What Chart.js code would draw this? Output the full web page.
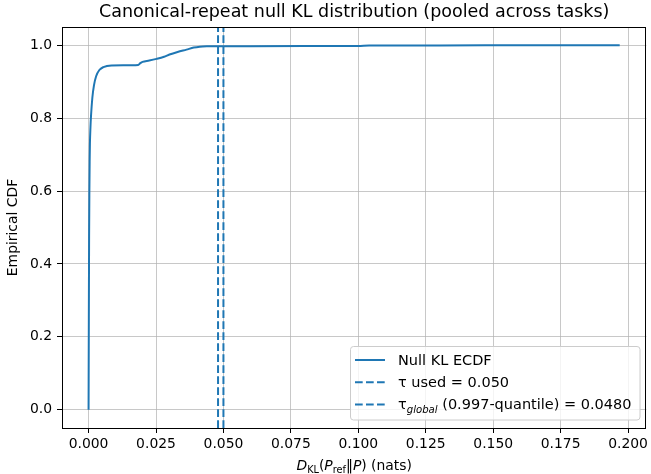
<!DOCTYPE html>
<html>
<head>
<meta charset="utf-8">
<script src="https://cdn.jsdelivr.net/npm/chart.js@4/dist/chart.umd.min.js"></script>
<style>
  html, body { margin: 0; padding: 0; background: #fff; }
  #wrap { width: 651px; height: 474px; }
</style>
</head>
<body>
<div id="wrap"><canvas id="ecdfChart" width="651" height="474"></canvas></div>
<script>
// pooled null KL values (nats) and their empirical CDF
const klValues = [0.0000, 0.0001, 0.0002, 0.0003, 0.0004, 0.0005, 0.0007, 0.0009, 0.0014, 0.0020,
  0.0028, 0.0040, 0.0055, 0.0085, 0.0130, 0.0184, 0.0192, 0.0200, 0.0225, 0.0252,
  0.0280, 0.0300, 0.0330, 0.0363, 0.0390, 0.0412, 0.0440, 0.0473, 0.0600, 0.0800,
  0.1000, 0.1040, 0.1300, 0.1600, 0.1969];
const cdfValues = [0.000, 0.250, 0.480, 0.600, 0.680, 0.730, 0.775, 0.805, 0.856, 0.890,
  0.915, 0.932, 0.940, 0.9445, 0.9450, 0.9460, 0.9510, 0.9545, 0.9580, 0.9626,
  0.9685, 0.9745, 0.9815, 0.9880, 0.9935, 0.9960, 0.9970, 0.9972, 0.9974, 0.9976,
  0.9980, 0.9992, 0.9995, 0.9998, 1.0000];

const tauUsed = 0.050;
const tauGlobal = 0.0480;

const xTicks = [0, 0.025, 0.05, 0.075, 0.1, 0.125, 0.15, 0.175, 0.2];
const yTicks = [0, 0.2, 0.4, 0.6, 0.8, 1.0];

const BLUE = '#1f77b4';
const FONT = '"DejaVu Sans", sans-serif';
const DASH = [7.7, 3.3];

// text runs: { t, it (italic), sub (subscript) }
const titleText = 'Canonical-repeat null KL distribution (pooled across tasks)';
const xTitleRuns = [
  { t: 'D', it: true }, { t: 'KL', sub: true }, { t: '(' }, { t: 'P', it: true },
  { t: 'ref', sub: true }, { t: '\u2016' }, { t: 'P', it: true }, { t: ') (nats)' }
];
const yTitle = 'Empirical CDF';
const legendRows = [
  { dash: false, runs: [{ t: 'Null KL ECDF' }] },
  { dash: true, runs: [{ t: '\u03c4 used = ' + tauUsed.toFixed(3) }] },
  { dash: true, runs: [{ t: '\u03c4' }, { t: 'global', it: true, sub: true }, { t: ' (0.997-quantile) = ' + tauGlobal.toFixed(4) }] }
];

function runFont(r, size) {
  const s = r.sub ? size * 0.7 : size;
  return (r.it ? 'italic ' : '') + s + 'px ' + FONT;
}

function drawRuns(ctx, runs, x, y, size, align) {
  let total = 0;
  runs.forEach(r => { ctx.font = runFont(r, size); total += ctx.measureText(r.t).width; });
  let cx = align === 'center' ? x - total / 2 : x;
  ctx.textAlign = 'left';
  ctx.textBaseline = 'alphabetic';
  runs.forEach(r => {
    ctx.font = runFont(r, size);
    ctx.fillText(r.t, cx, r.sub ? y + size * 0.25 : y);
    cx += ctx.measureText(r.t).width;
  });
}

const decorPlugin = {
  id: 'decor',
  afterDraw(chart) {
    const ctx = chart.ctx;
    const a = chart.chartArea;
    ctx.save();

    // axes frame
    ctx.strokeStyle = '#000';
    ctx.lineWidth = 1;
    ctx.strokeRect(Math.round(a.left) + 0.5, Math.round(a.top) + 0.5,
      Math.round(a.right - a.left) - 1, Math.round(a.bottom - a.top));

    const cx = (a.left + a.right) / 2;
    ctx.fillStyle = '#000';

    // title
    ctx.font = '17.5px ' + FONT;
    ctx.textAlign = 'center';
    ctx.textBaseline = 'middle';
    ctx.fillText(titleText, cx, 12);

    // x title with subscripts
    drawRuns(ctx, xTitleRuns, cx, 470, 13.9, 'center');

    // y title
    ctx.save();
    ctx.translate(13, (a.top + a.bottom) / 2);
    ctx.rotate(-Math.PI / 2);
    ctx.font = '13.9px ' + FONT;
    ctx.textAlign = 'center';
    ctx.textBaseline = 'middle';
    ctx.fillText(yTitle, 0, 0);
    ctx.restore();

    // legend box, lower right
    const bx = 350.5, by = 346.5, bw = 289.5, bh = 73.5, r = 3;
    ctx.beginPath();
    ctx.moveTo(bx + r, by);
    ctx.arcTo(bx + bw, by, bx + bw, by + bh, r);
    ctx.arcTo(bx + bw, by + bh, bx, by + bh, r);
    ctx.arcTo(bx, by + bh, bx, by, r);
    ctx.arcTo(bx, by, bx + bw, by, r);
    ctx.closePath();
    ctx.fillStyle = 'rgba(255,255,255,0.8)';
    ctx.fill();
    ctx.strokeStyle = '#cccccc';
    ctx.lineWidth = 1;
    ctx.stroke();

    legendRows.forEach((row, i) => {
      const ry = 360 + i * 22.2;
      ctx.beginPath();
      ctx.strokeStyle = BLUE;
      ctx.lineWidth = 2;
      ctx.setLineDash(row.dash ? DASH : []);
      ctx.moveTo(355, ry);
      ctx.lineTo(385, ry);
      ctx.stroke();
      ctx.setLineDash([]);
      ctx.fillStyle = '#000';
      drawRuns(ctx, row.runs, 398, ry + 5, 14.5, 'left');
    });

    ctx.restore();
  }
};

const ctx = document.getElementById('ecdfChart').getContext('2d');
const chart = new Chart(ctx, {
  type: 'scatter',
  data: {
    datasets: [
      {
        label: 'Null KL ECDF',
        data: klValues.map((x, i) => ({ x: x, y: cdfValues[i] })),
        showLine: true,
        borderColor: BLUE,
        backgroundColor: BLUE,
        borderWidth: 2,
        pointRadius: 0,
        cubicInterpolationMode: 'monotone',
        order: 2
      },
      {
        label: 'tau used',
        data: [{ x: tauUsed, y: -0.05 }, { x: tauUsed, y: 1.05 }],
        showLine: true,
        borderColor: BLUE,
        borderWidth: 2,
        borderDash: DASH,
        pointRadius: 0,
        order: 1
      },
      {
        label: 'tau global',
        data: [{ x: tauGlobal, y: -0.05 }, { x: tauGlobal, y: 1.05 }],
        showLine: true,
        borderColor: BLUE,
        borderWidth: 2,
        borderDash: DASH,
        pointRadius: 0,
        order: 0
      }
    ]
  },
  options: {
    responsive: false,
    animation: false,
    devicePixelRatio: 1,
    layout: { padding: { top: 27, right: 2, left: 0, bottom: 0 } },
    plugins: { legend: { display: false }, title: { display: false }, tooltip: { enabled: false } },
    scales: {
      x: {
        type: 'linear',
        min: -0.00985,
        max: 0.2068,
        afterBuildTicks: s => { s.ticks = xTicks.map(v => ({ value: v })); },
        afterFit: s => { s.height = 46; },
        ticks: {
          callback: v => v.toFixed(3),
          color: '#000',
          font: { family: FONT, size: 13.9 },
          padding: 3,
          maxRotation: 0
        },
        grid: { color: 'rgba(176,176,176,0.7)', lineWidth: 1, tickColor: '#000', tickLength: 5 },
        border: { display: false }
      },
      y: {
        type: 'linear',
        min: -0.05,
        max: 1.05,
        afterBuildTicks: s => { s.ticks = yTicks.map(v => ({ value: v })); },
        afterFit: s => { s.width = 62; },
        ticks: {
          callback: v => v.toFixed(1),
          color: '#000',
          font: { family: FONT, size: 13.9 },
          padding: 5
        },
        grid: { color: 'rgba(176,176,176,0.7)', lineWidth: 1, tickColor: '#000', tickLength: 5 },
        border: { display: false }
      }
    }
  },
  plugins: [decorPlugin]
});
</script>
</body>
</html>
